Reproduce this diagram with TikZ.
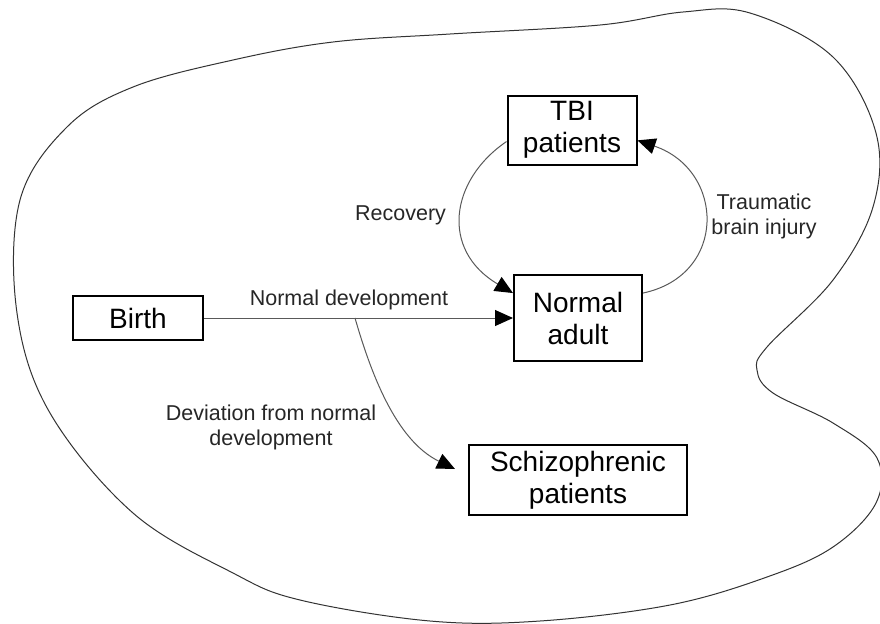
\documentclass[tikz,border=0pt]{standalone}
\usepackage{fontspec}
\setmainfont{Liberation Sans}
\usetikzlibrary{arrows.meta}

\begin{document}
\begin{tikzpicture}[x=0.5pt,y=-0.5pt,
  box/.style={draw=black,line width=1pt,inner sep=0pt,align=center,font=\fontsize{14}{16}\selectfont},
  lbl/.style={align=center,text=black!85,font=\fontsize{10.75}{12.5}\selectfont},
  link/.style={draw=black!65,line width=0.5pt,-{Triangle[length=9pt,width=8pt,color=black]}}]
\useasboundingbox (0,0) rectangle (880,623);

% outer region
\draw[black!80,line width=0.5pt] plot[smooth cycle,tension=0.6] coordinates {
  (20,200) (67,127) (133,87) (233,60) (333,42) (450,34) (600,25) (683,12)
  (750,13) (833,57) (876,133) (873,207) (833,280) (767,347) (757,370)
  (773,393) (833,423) (877,458) (876,503) (833,547) (767,577) (670,605)
  (540,621) (430,621) (300,600) (233,573) (133,513) (50,413) (17,313)};

% boxes
\node[box,minimum width=65pt,minimum height=22pt] (birth) at (138,318) {Birth};
\node[box,minimum width=64pt,minimum height=43pt] (adult) at (578,318) {Normal\\adult};
\node[box,minimum width=64.5pt,minimum height=34.5pt] (tbi) at (572,130) {TBI\\patients};
\node[box,minimum width=109pt,minimum height=35pt] (schizo) at (578,480) {Schizophrenic\\patients};

\coordinate (fork) at (355,318);
\coordinate (devtip) at (455,469);

% development
\draw[link] (birth) -- (adult);
\node[lbl,anchor=base] (ndev) at (349,305) {Normal development};
\draw[link] (fork) .. controls (370,370) and (395,440) .. (devtip);
\node[lbl] (dev) at (271,427) {Deviation from normal\\development};

% injury loop
\draw[link] (tbi.190) .. controls (450,180) and (440,250) .. (adult.159);
\node[lbl,anchor=base east] (rec) at (453,220) {Recovery};
\draw[link] (adult.21) .. controls (728,275) and (725,170) .. (tbi.351);
\node[lbl] (inj) at (764,216) {Traumatic\\brain injury};

\end{tikzpicture}
\end{document}
